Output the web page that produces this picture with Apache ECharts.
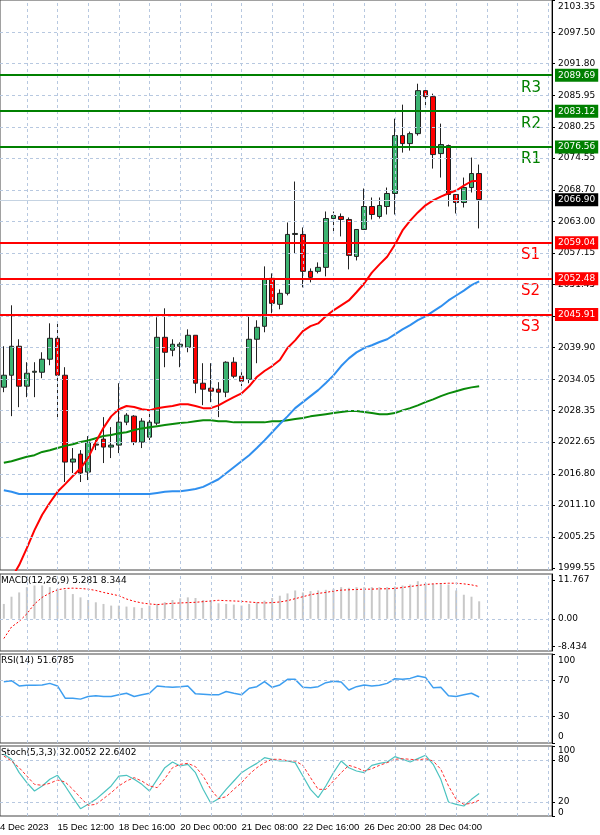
<!DOCTYPE html>
<html>
<head>
<meta charset="utf-8">
<script src="https://cdn.jsdelivr.net/npm/echarts@6/dist/echarts.min.js"></script>
<style>html,body{margin:0;padding:0;background:#fff}#graph{width:600px;height:835px}</style>
</head>
<body>
<div id="graph"></div>
<script>
// candles [open, close, low, high]
var candles = [
  [2032.63,2034.82,2031.72,2040.12],[2034.82,2040.12,2027.34,2047.61],[2040.12,2032.82,2028.98,2041.40],
  [2032.82,2035.19,2030.81,2037.20],[2035.37,2035.55,2030.81,2037.20],[2035.37,2037.75,2034.28,2039.02],
  [2037.75,2041.58,2036.65,2044.32],[2041.58,2034.82,2026.79,2044.69],[2034.82,2018.94,2015.29,2036.29],
  [2018.94,2019.49,2016.93,2021.50],[2020.40,2016.93,2015.29,2021.13],[2017.11,2022.59,2015.65,2023.69],
  [2022.04,2022.23,2021.13,2022.96],[2023.14,2021.68,2018.76,2027.16],[2021.68,2022.04,2019.67,2025.33],
  [2022.04,2026.24,2020.58,2033.36],[2026.24,2027.52,2025.69,2027.89],[2027.34,2022.59,2022.04,2027.52],
  [2022.59,2026.43,2021.50,2026.97],[2023.50,2026.24,2022.96,2028.07],[2026.06,2041.76,2025.69,2045.42],
  [2041.76,2039.02,2036.29,2047.06],[2039.39,2040.49,2038.29,2041.40],[2040.12,2040.49,2036.29,2040.85],
  [2039.94,2042.13,2039.02,2043.22],[2042.13,2033.36,2031.54,2042.13],[2033.36,2032.27,2029.35,2037.02],
  [2032.45,2031.90,2029.89,2037.02],[2032.27,2031.72,2027.16,2033.55],[2031.72,2037.20,2030.81,2037.38],
  [2037.20,2034.64,2034.28,2038.11],[2034.64,2033.73,2032.82,2035.37],[2034.09,2041.40,2033.36,2045.78],
  [2041.40,2043.59,2037.02,2044.87],[2043.77,2052.35,2042.68,2054.73],[2052.54,2047.97,2046.15,2053.45],
  [2047.79,2049.80,2046.88,2050.53],[2049.80,2060.57,2049.43,2062.76],[2060.57,2060.75,2057.10,2070.25],
  [2060.57,2053.82,2050.89,2061.85],[2053.82,2052.72,2051.81,2054.36],[2053.82,2054.55,2053.45,2055.46],
  [2054.55,2063.49,2052.90,2064.77],[2063.49,2064.04,2061.12,2064.77],[2063.86,2063.31,2060.21,2064.41],
  [2063.31,2056.74,2054.18,2063.68],[2056.55,2061.48,2055.82,2061.48],[2061.48,2065.68,2061.48,2068.97],
  [2065.68,2064.22,2063.31,2067.33],[2063.86,2065.87,2063.49,2067.33],[2065.68,2068.06,2064.22,2069.15],
  [2068.06,2078.65,2064.22,2081.75],[2078.65,2077.19,2075.54,2084.31],[2077.19,2079.01,2075.91,2079.38],
  [2079.01,2086.87,2078.65,2088.14],[2086.87,2085.77,2083.76,2087.23],[2085.77,2075.18,2072.62,2086.32],
  [2075.36,2077.01,2070.98,2080.84],[2076.82,2067.88,2065.68,2077.01],[2067.88,2066.41,2064.41,2067.88],
  [2066.41,2069.15,2065.50,2070.98],[2069.15,2071.71,2068.24,2074.63],[2071.71,2066.96,2061.67,2073.35]
];
var maRed = [1995.6,1997.7,2000.1,2003.2,2006.5,2009.3,2011.5,2013.5,2014.9,2016.4,2017.8,2019.7,2022.6,2025.2,2027.3,2028.6,2029.2,2029.0,2028.6,2028.4,2028.8,2029.0,2029.2,2029.5,2029.5,2029.2,2028.8,2028.8,2029.3,2030.1,2030.8,2031.5,2032.8,2034.5,2035.6,2036.5,2037.6,2039.8,2041.2,2042.9,2043.8,2044.3,2045.6,2046.7,2047.6,2048.5,2050.0,2051.6,2053.6,2055.1,2056.5,2058.7,2061.3,2063.1,2064.6,2065.9,2066.8,2067.5,2068.1,2068.6,2069.5,2070.3,2070.4];
var maBlue = [2013.8,2013.5,2013.1,2013.1,2013.1,2013.1,2013.1,2013.1,2013.1,2013.1,2013.1,2013.1,2013.1,2013.1,2013.1,2013.1,2013.1,2013.1,2013.1,2013.1,2013.3,2013.5,2013.6,2013.6,2013.8,2014.0,2014.4,2015.1,2015.8,2016.9,2018.0,2019.1,2020.2,2021.5,2022.9,2024.4,2025.9,2027.3,2028.8,2029.9,2031.0,2032.1,2033.4,2034.8,2036.5,2037.9,2039.0,2039.8,2040.3,2040.9,2041.4,2042.3,2043.2,2044.0,2044.9,2045.6,2046.5,2047.4,2048.5,2049.4,2050.3,2051.3,2052.0];
var maGreen = [2018.8,2019.1,2019.5,2019.9,2020.2,2020.8,2021.1,2021.5,2021.9,2022.2,2022.6,2022.9,2023.3,2023.7,2023.9,2024.2,2024.4,2024.8,2025.1,2025.3,2025.5,2025.7,2025.9,2026.1,2026.2,2026.4,2026.6,2026.6,2026.4,2026.4,2026.2,2026.2,2026.2,2026.2,2026.2,2026.4,2026.4,2026.6,2026.8,2027.0,2027.3,2027.5,2027.7,2027.9,2028.1,2028.3,2028.3,2028.1,2027.9,2027.7,2027.7,2027.9,2028.4,2028.8,2029.3,2029.9,2030.4,2031.0,2031.5,2031.9,2032.3,2032.6,2032.8];
var macdHist = [4.5,6.7,8.0,9.6,10.1,10.1,9.6,9.1,8.8,7.5,6.5,5.7,5.0,4.5,4.0,4.0,3.7,3.5,3.3,4.0,4.5,5.0,5.7,6.2,6.5,6.3,5.7,5.5,4.7,4.5,4.3,4.0,4.5,5.0,5.5,6.3,7.0,7.7,8.6,8.0,8.4,8.6,8.8,9.1,9.6,9.4,9.6,9.6,9.6,9.6,9.6,9.8,10.1,10.4,11.4,10.8,10.6,10.8,10.4,8.6,7.3,6.7,5.3];
var macdSignal = [-6.0,-2.5,-0.8,1.5,4.5,6.5,7.8,8.8,9.2,9.3,9.2,9.0,8.6,8.0,7.5,7.0,6.0,5.3,4.8,4.5,4.3,4.5,4.7,4.8,4.9,5.0,5.2,5.4,5.6,5.5,5.4,5.3,5.1,4.9,4.8,4.9,5.1,5.5,6.1,6.7,7.3,7.7,8.0,8.4,8.7,8.8,8.9,9.0,9.0,9.1,9.1,9.2,9.5,9.8,10.1,10.4,10.6,10.7,10.8,10.8,10.6,10.3,9.8];
var rsi = [68.9,70.0,64.1,64.8,64.8,65.2,67.0,64.1,50.4,50.4,49.3,52.2,53.0,52.2,52.2,54.1,55.9,52.2,54.1,55.9,64.1,63.3,62.6,63.3,64.1,55.2,54.8,54.1,54.1,57.8,55.9,54.1,61.5,63.3,68.9,62.6,65.2,71.5,71.5,62.6,62.2,63.3,67.8,69.3,68.5,59.6,63.3,65.2,64.1,64.8,67.0,72.2,71.5,72.6,75.2,73.7,62.2,62.6,53.0,52.2,54.1,55.9,51.7];
var stochK = [88.1,81.0,61.9,47.6,35.7,42.9,52.4,58.1,42.9,26.2,10.5,16.7,23.8,33.3,42.9,57.1,58.1,52.4,45.2,35.7,52.4,69.0,77.1,71.4,73.8,61.9,38.1,18.1,24.8,38.1,50.0,61.9,69.0,75.2,83.3,81.0,78.6,78.6,76.2,57.1,38.1,26.2,42.9,61.9,78.6,69.0,64.3,61.9,72.4,75.2,77.1,84.8,81.0,77.1,81.9,86.7,73.8,52.4,20.0,16.7,14.3,23.8,32.0];
var stochD = [85.7,78.6,69.0,57.1,45.2,43.8,46.7,51.4,48.6,38.1,26.2,15.2,16.7,24.8,33.3,42.9,50.0,54.8,50.0,42.9,40.5,53.3,69.0,73.8,75.2,70.5,57.1,38.1,24.8,27.6,38.1,47.6,59.5,69.0,76.2,81.0,81.0,79.0,78.6,72.4,54.8,38.1,38.1,50.0,61.9,72.4,69.0,64.3,67.6,72.4,76.2,81.0,81.9,81.0,80.0,81.9,78.6,66.7,42.9,23.8,16.7,18.1,22.6];
var levels = [
  {name: 'R3', value: 2089.69, color: '#008000'},
  {name: 'R2', value: 2083.12, color: '#008000'},
  {name: 'R1', value: 2076.56, color: '#008000'},
  {name: 'S1', value: 2059.04, color: '#ff0000'},
  {name: 'S2', value: 2052.48, color: '#ff0000'},
  {name: 'S3', value: 2045.91, color: '#ff0000'}
];
var lastPrice = 2066.90;
var priceTicks = [1999.55,2005.25,2011.10,2016.80,2022.65,2028.35,2034.05,2039.90,2045.60,2051.45,2057.15,2063.00,2068.70,2074.55,2080.25,2085.95,2091.80,2097.50,2103.35];
var dateLabels = ['15 Dec 12:00','18 Dec 16:00','20 Dec 00:00','21 Dec 08:00','22 Dec 16:00','26 Dec 20:00','28 Dec 04:00'];
var slots = 72;

var categories = [];
for (var i = 0; i < slots; i++) categories.push('');
dateLabels.forEach(function(d, k) { categories[7 + 8 * k] = d; });

var font = 'DejaVu Sans';
var gridLine = {type: [3, 3], color: '#b7c8e0', width: 1};
var vLines = [];
for (var j = 3; j < slots; j += 4) vLines.push({xAxis: j});

var grids = [
  {left: 0, right: 48, top: 0, height: 570},
  {left: 0, right: 48, top: 574, height: 77},
  {left: 0, right: 48, top: 654, height: 89},
  {left: 0, right: 48, top: 746, height: 70}
];
grids.forEach(function(g) { g.show = true; g.borderColor = '#444'; g.borderWidth = 1; });

function xAx(idx, showLabel) {
  return {
    type: 'category', gridIndex: idx, data: categories, boundaryGap: true,
    axisLine: {show: false}, axisTick: {show: false}, splitLine: {show: false},
    axisLabel: {
      show: showLabel, interval: 0, align: 'left', fontFamily: 'Liberation Sans', fontSize: 9.5, color: '#000', margin: 6
    }
  };
}
var edgeRich = {
  dn: {padding: [13, 0, 0, 0], fontFamily: font, fontSize: 9, color: '#000'},
  up: {padding: [0, 0, 13, 0], fontFamily: font, fontSize: 9, color: '#000'},
  dn2: {padding: [9, 0, 0, 0], fontFamily: font, fontSize: 9, color: '#000'},
  up2: {padding: [0, 0, 6, 0], fontFamily: font, fontSize: 9, color: '#000'}
};
function yAx(idx, min, max, ticks, fmt) {
  return {
    type: 'value', gridIndex: idx, position: 'right', min: min, max: max,
    axisLine: {show: true, lineStyle: {color: '#000'}},
    axisTick: {show: true, length: 3, customValues: ticks, lineStyle: {color: '#000'}},
    axisLabel: {customValues: ticks, hideOverlap: false, showMinLabel: true, showMaxLabel: true,
      fontFamily: font, fontSize: 9, color: '#000', margin: 6, formatter: fmt, rich: edgeRich},
    splitLine: {show: false}
  };
}
function rsiFmt(v) {
  if (v === 100) return '{dn|100}';
  if (v === 0) return '{up|0}';
  return String(v);
}
function stochFmt(v) {
  if (v === 100) return '{dn2|100}';
  if (v === 0) return '{up2|0}';
  return String(v);
}
function hLines(vals) {
  return vals.map(function(v) { return {yAxis: v}; });
}
function gridSeries(idx, hvals) {
  return {
    type: 'line', xAxisIndex: idx, yAxisIndex: idx, data: [], silent: true,
    markLine: {symbol: 'none', silent: true, label: {show: false}, lineStyle: gridLine,
      data: vLines.concat(hLines(hvals))}
  };
}

var levelLines = levels.map(function(l) {
  return {yAxis: l.value, lineStyle: {color: l.color, width: 2, type: 'solid'},
    label: {show: true, position: 'end', formatter: l.value.toFixed(2), color: '#fff', backgroundColor: l.color,
      padding: [2, 3], fontFamily: font, fontSize: 9, distance: 3}};
});
levelLines.push({yAxis: lastPrice, lineStyle: {color: '#c5d3e2', width: 1, type: 'solid'},
  label: {show: true, position: 'end', formatter: lastPrice.toFixed(2), color: '#fff', backgroundColor: '#000',
    padding: [2, 3], fontFamily: font, fontSize: 9, distance: 3}});

var option = {
  animation: false,
  backgroundColor: '#fff',
  grid: grids,
  xAxis: [xAx(0, false), xAx(1, false), xAx(2, false), xAx(3, true)],
  yAxis: [
    yAx(0, 1999.2, 2103.45, priceTicks, function(v) { return v === 2103.35 ? '{dn|2103.35}' : v.toFixed(2); }),
    yAx(1, -9.8, 13.6, [-8.434, 0, 11.767], function(v) { return v === 0 ? '0.00' : String(v); }),
    yAx(2, 0, 100, [0, 30, 70, 100], rsiFmt),
    yAx(3, 0, 100, [0, 20, 80, 100], stochFmt)
  ],
  series: [
    gridSeries(0, priceTicks.slice(1, -1)),
    gridSeries(1, [0]),
    gridSeries(2, [30, 70]),
    gridSeries(3, [20, 80]),
    {
      type: 'candlestick', xAxisIndex: 0, yAxisIndex: 0, data: candles, barWidth: 5,
      itemStyle: {color: '#3cb371', color0: '#ff0000', borderColor: '#222', borderColor0: '#222', borderWidth: 1},
      markLine: {symbol: 'none', silent: true, data: levelLines}
    },
    {type: 'line', xAxisIndex: 0, yAxisIndex: 0, data: maGreen, symbol: 'none', lineStyle: {color: '#0a8a0a', width: 2}},
    {type: 'line', xAxisIndex: 0, yAxisIndex: 0, data: maBlue, symbol: 'none', lineStyle: {color: '#2f8fef', width: 2}},
    {type: 'line', xAxisIndex: 0, yAxisIndex: 0, data: maRed, symbol: 'none', lineStyle: {color: '#ff0000', width: 2}},
    {type: 'bar', xAxisIndex: 1, yAxisIndex: 1, data: macdHist, barWidth: 2, itemStyle: {color: '#c8c8c8'}},
    {type: 'line', xAxisIndex: 1, yAxisIndex: 1, data: macdSignal, symbol: 'none', lineStyle: {color: '#ff0000', width: 1, type: [2, 2]}},
    {type: 'line', xAxisIndex: 2, yAxisIndex: 2, data: rsi, symbol: 'none', lineStyle: {color: '#3d9ef0', width: 1.5}},
    {type: 'line', xAxisIndex: 3, yAxisIndex: 3, data: stochK, symbol: 'none', lineStyle: {color: '#4cc3c0', width: 1.2}},
    {type: 'line', xAxisIndex: 3, yAxisIndex: 3, data: stochD, symbol: 'none', lineStyle: {color: '#ff3030', width: 1, type: [3, 2]}}
  ]
};

var chart = echarts.init(document.getElementById('graph'));
chart.setOption(option);

// R/S names and pane captions
var texts = [];
levels.forEach(function(l) {
  var y = chart.convertToPixel({yAxisIndex: 0}, l.value);
  texts.push({type: 'text', left: 521, top: y + 5, style: {text: l.name, fill: l.color, font: '15px "DejaVu Sans"'}});
});
var captions = [
  ['MACD(12,26,9) 5.281 8.344', 576], ['RSI(14) 51.6785', 656], ['Stoch(5,3,3) 32.0052 22.6402', 748]
];
captions.forEach(function(c) {
  texts.push({type: 'text', left: 1, top: c[1], style: {text: c[0], fill: '#000', font: '9px "DejaVu Sans"'}});
});
texts.push({type: 'text', left: 0, top: 822, style: {text: '4 Dec 2023', fill: '#000', font: '9.5px "Liberation Sans"'}});
chart.setOption({graphic: texts});
</script>
</body>
</html>
